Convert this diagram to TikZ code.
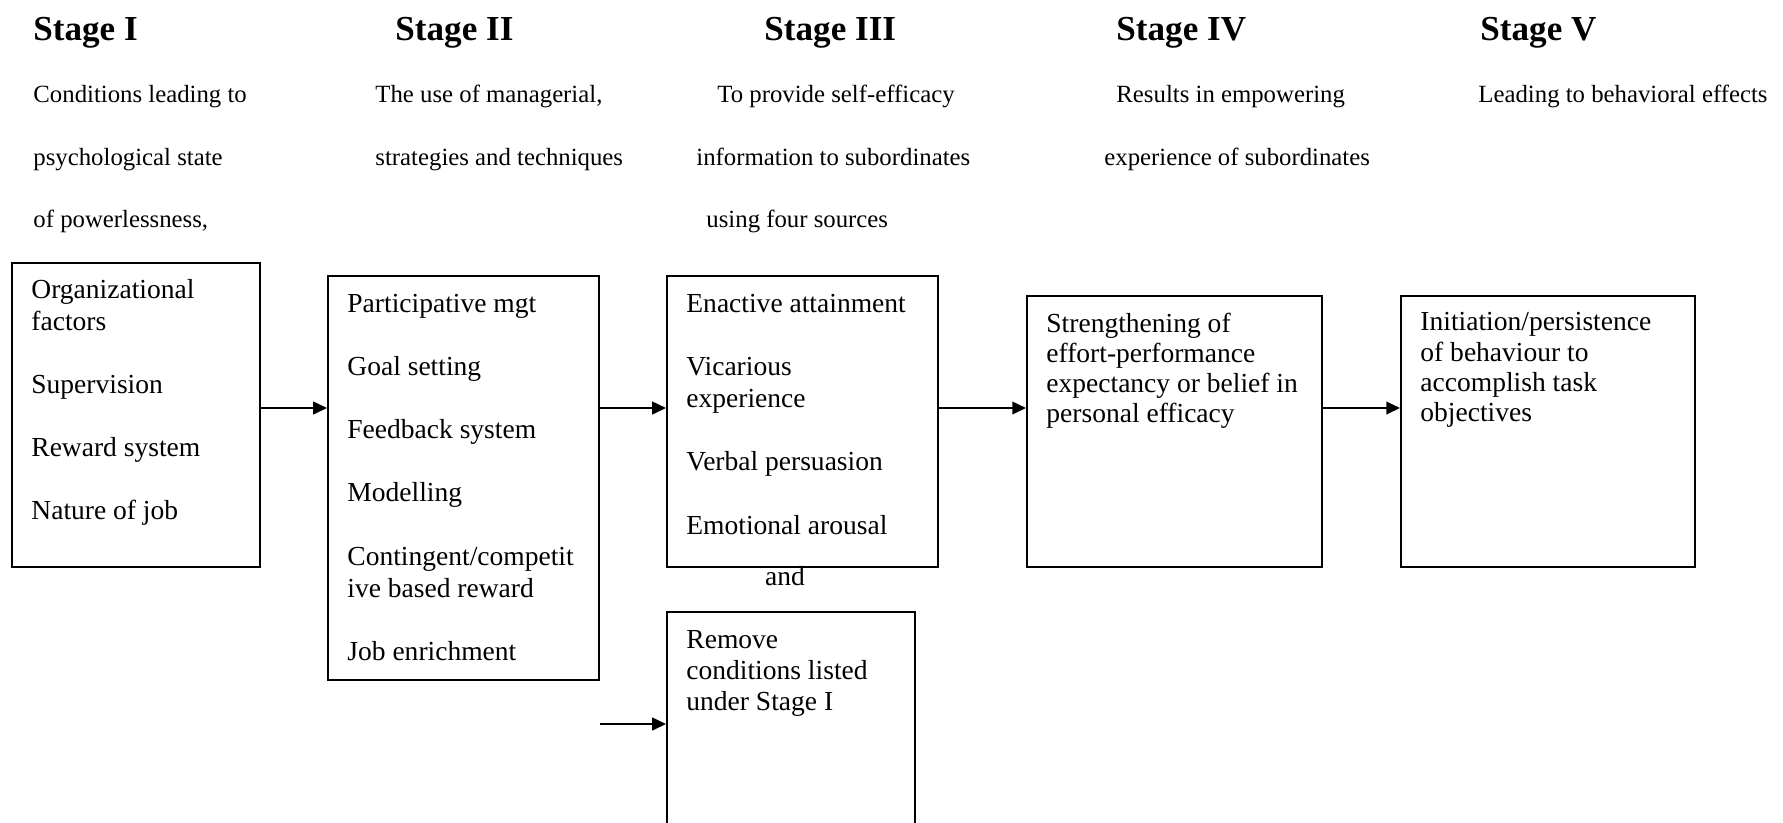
\documentclass[tikz,border=0pt]{standalone}
\usepackage{fontspec}
\setmainfont{Liberation Serif}
\usetikzlibrary{positioning, arrows.meta}
\newcommand{\px}{0.436pt}
\tikzset{
stagetitle/.style={anchor=base west, inner sep=0, font=\fontsize{15.3}{18}\selectfont\bfseries},
stagenote/.style={anchor=base west, inner sep=0, font=\fontsize{10.8}{13}\selectfont},
stagebox/.style={draw, line width=0.9pt, anchor=north west, inner sep=0},
boxtext/.style={align=left, inner sep=0, font=\fontsize{12}{14}\selectfont},
arr/.style={line width=0.9pt, -{Triangle[length=6pt, width=5.5pt]}}}

\begin{document}
\begin{tikzpicture}[x=\px, y=-\px]
\useasboundingbox (0,0) rectangle (1783,822);
\clip (0,0) rectangle (1783,822);
% stage headings
\foreach \sx/\sname [count=\s] in {33/I, 395/II, 764/III, 1116/IV, 1480/V}{
      \node [stagetitle] at (\sx, 40) (stage-\s) {Stage \sname};
}
% lines under the headings
\foreach \nx/\ny/\ntext [count=\n] in {33/102/{Conditions leading to}, 33/165/{psychological state},
      33/227/{of powerlessness,}, 375/102/{The use of managerial,}, 375/165/{strategies and techniques},
      717/102/{To provide self-efficacy}, 696/165/{information to subordinates}, 706/227/{using four sources},
      1116/102/{Results in empowering}, 1104/165/{experience of subordinates}, 1478/102/{Leading to behavioral effects}}{
      \node [stagenote] at (\nx, \ny) (note-\n) {\ntext};
}

% boxes
\node [stagebox, minimum width=248*\px, minimum height=304*\px] at (11, 262) (b1) {};
\node [stagebox, minimum width=271*\px, minimum height=404*\px] at (327, 275) (b2) {};
\node [stagebox, minimum width=271*\px, minimum height=291*\px] at (666, 275) (b3) {};
\node [stagebox, minimum width=295*\px, minimum height=271*\px] at (1026, 295) (b4) {};
\node [stagebox, minimum width=294*\px, minimum height=271*\px] at (1400, 295) (b5) {};
\node [stagebox, minimum width=248*\px, minimum height=240*\px] at (666, 611) (b6) {};

\node [boxtext, below right=7.3pt and 8.7pt of b1.north west] (t1)
      {Organizational\\factors\\[13.5pt]Supervision\\[13.5pt]Reward system\\[13.5pt]Nature of job};
\node [boxtext, below right=8pt and 8.7pt of b2.north west] (t2)
      {Participative mgt\\[13.6pt]Goal setting\\[13.6pt]Feedback system\\[13.6pt]Modelling\\[13.6pt]Contingent/competit\\ive based reward\\[13.6pt]Job enrichment};
\node [boxtext, below right=8pt and 8.7pt of b3.north west] (t3)
      {Enactive attainment\\[13.6pt]Vicarious\\experience\\[13.6pt]Verbal persuasion\\[13.6pt]Emotional arousal};
\node [boxtext, font=\fontsize{12}{13.2}\selectfont, below right=7.5pt and 8.7pt of b4.north west] (t4)
      {Strengthening of\\effort-performance\\expectancy or belief in\\personal efficacy};
\node [boxtext, font=\fontsize{12}{13.2}\selectfont, below right=7.5pt and 8.7pt of b5.north west] (t5)
      {Initiation/persistence\\of behaviour to\\accomplish task\\objectives};
\node [boxtext, font=\fontsize{12}{13.5}\selectfont, below right=8.4pt and 8.7pt of b6.north west] (t6)
      {Remove\\conditions listed\\under Stage I};
\node [boxtext, anchor=base] at (785, 585) (and) {and};

% connectors
\coordinate (row) at (0, 408);
\coordinate (low) at (0, 724);
\draw [arr] (b1.east |- row) -- (b2.west |- row);
\draw [arr] (b2.east |- row) -- (b3.west |- row);
\draw [arr] (b3.east |- row) -- (b4.west |- row);
\draw [arr] (b4.east |- row) -- (b5.west |- row);
\draw [arr] (b2.east |- low) -- (b6.west |- low);
\end{tikzpicture}
\end{document}
